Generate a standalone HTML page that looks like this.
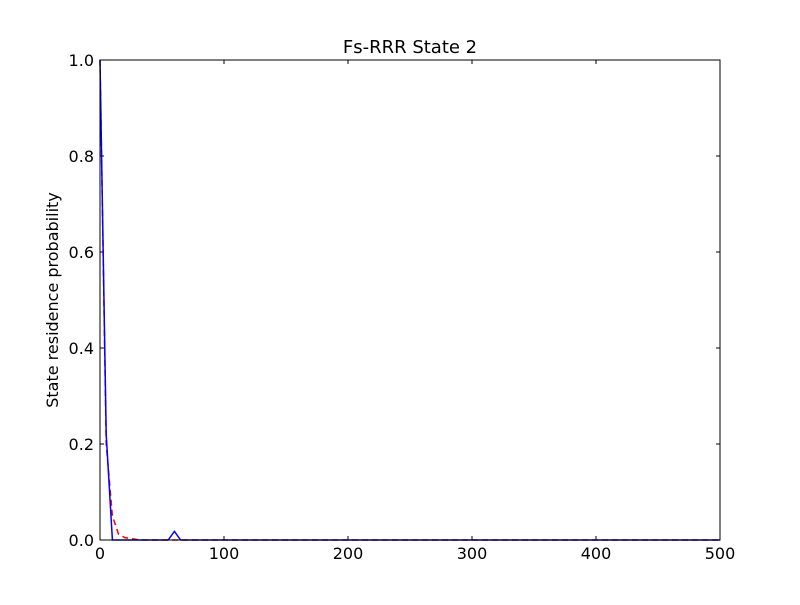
<!DOCTYPE html>
<html><head><meta charset="utf-8"><style>
body{margin:0;background:#fff}
svg text{font-family:"DejaVu Sans","Liberation Sans",sans-serif;fill:#000}
</style></head><body>
<svg width="800" height="600" xmlns="http://www.w3.org/2000/svg">
<rect width="800" height="600" fill="#fff"/>
<text x="410" y="53" font-size="18" text-anchor="middle">Fs-RRR State 2</text>
<text transform="translate(58,300) rotate(-90)" font-size="16" text-anchor="middle">State residence probability</text>
<g id="ticks"></g>
<g id="series"></g>
<rect x="100" y="60" width="620" height="480" fill="none" stroke="#000" stroke-width="1"/>
</svg>
<script>
const xTicks=[0,100,200,300,400,500];
const yTicks=[0.0,0.2,0.4,0.6,0.8,1.0];
const blueX=[0,5,10,55,60,65,500];
const blueY=[1.0,0.22,0.0,0.0,0.018,0.0,0.0];
const redX=[0,5,10,15,20,25,30,35,500];
const redY=[1.0,0.2,0.05,0.012,0.005,0.003,0.001,0.0,0.0];
const X=v=>100+v/500*620, Y=v=>540-v*480;
const ns="http://www.w3.org/2000/svg";
const tg=document.getElementById('ticks'), sg=document.getElementById('series');
function mk(t,a,p){const e=document.createElementNS(ns,t);for(const k in a)e.setAttribute(k,a[k]);p.appendChild(e);return e;}
xTicks.forEach(v=>{const x=X(v);
 mk('line',{x1:x,x2:x,y1:540,y2:536,stroke:'#000'},tg);
 mk('line',{x1:x,x2:x,y1:60,y2:64,stroke:'#000'},tg);
 const t=mk('text',{x:x,y:559,'font-size':16,'text-anchor':'middle'},tg);t.textContent=v;
 
 });
yTicks.forEach(v=>{const y=Y(v);
 mk('line',{x1:100,x2:104,y1:y,y2:y,stroke:'#000'},tg);
 mk('line',{x1:716,x2:720,y1:y,y2:y,stroke:'#000'},tg);
 const t=mk('text',{x:94,y:y+6,'font-size':16,'text-anchor':'end'},tg);t.textContent=v.toFixed(1);
 
 });
const r=mk('polyline',{points:redX.map((x,i)=>X(x)+','+Y(redY[i])).join(' '),fill:'none',stroke:'#f00','stroke-width':1.5,'stroke-dasharray':'6,4'},sg);


const b=mk('polyline',{points:blueX.map((x,i)=>X(x)+','+Y(blueY[i])).join(' '),fill:'none',stroke:'#00f','stroke-width':1.5},sg);


</script>
</body></html>
